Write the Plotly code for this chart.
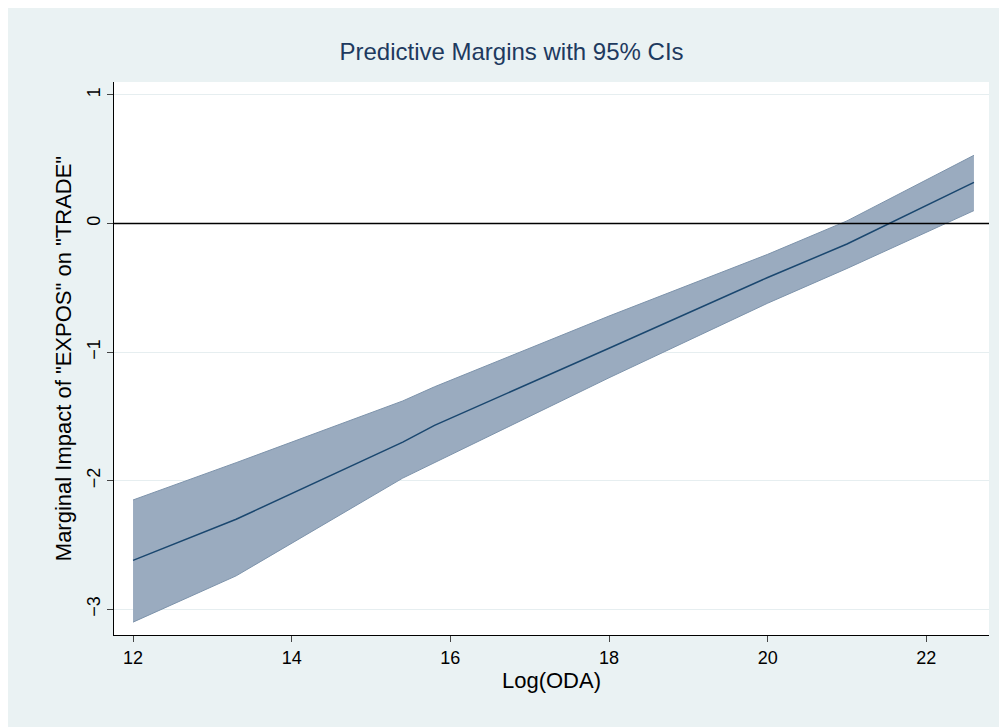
import plotly.graph_objects as go

log_oda = [12, 13.3, 15.4, 15.8, 18, 20, 21, 22.6]
margin_mid = [-2.62, -2.3, -1.7, -1.57, -0.97, -0.42, -0.16, 0.32]
ci_upper = [-2.15, -1.86, -1.38, -1.27, -0.72, -0.24, 0.02, 0.53]
ci_lower = [-3.1, -2.74, -1.98, -1.86, -1.2, -0.62, -0.35, 0.1]

fig = go.Figure()
fig.add_trace(go.Scatter(x=log_oda, y=ci_upper, mode="lines",
                         line=dict(color="#7d93ab", width=1), showlegend=False))
fig.add_trace(go.Scatter(x=log_oda, y=ci_lower, mode="lines", fill="tonexty",
                         fillcolor="#9aabbf", line=dict(color="#7d93ab", width=1),
                         showlegend=False))
fig.add_trace(go.Scatter(x=log_oda, y=margin_mid, mode="lines",
                         line=dict(color="#1a476f", width=1.5), showlegend=False))
fig.add_hline(y=0, line=dict(color="black", width=1.5))

fig.update_layout(
    width=1007, height=727,
    paper_bgcolor="#eaf2f3", plot_bgcolor="white",
    margin=dict(l=106, r=26, t=74, b=100),
    font=dict(family="Liberation Sans, Arial", size=18, color="black"),
    title=dict(text="Predictive Margins with 95% CIs", x=0.5, xanchor="center",
               y=0.94, yanchor="middle", font=dict(size=24, color="#1e3a5f")),
)
fig.update_xaxes(range=[11.76, 22.79], tickvals=[12, 14, 16, 18, 20, 22],
                 showgrid=False, showline=True, linecolor="black", ticks="outside",
                 ticklen=6, title=dict(text="Log(ODA)", standoff=2), zeroline=False)
fig.update_yaxes(range=[-3.2, 1.1], tickvals=[-3, -2, -1, 0, 1], tickangle=-90,
                 showgrid=True, gridcolor="#e6eef0", showline=True, linecolor="black",
                 ticks="outside", ticklen=6, zeroline=False,
                 title=dict(text='Marginal Impact of "EXPOS" on "TRADE"', standoff=6))
fig.write_html("out.html")
